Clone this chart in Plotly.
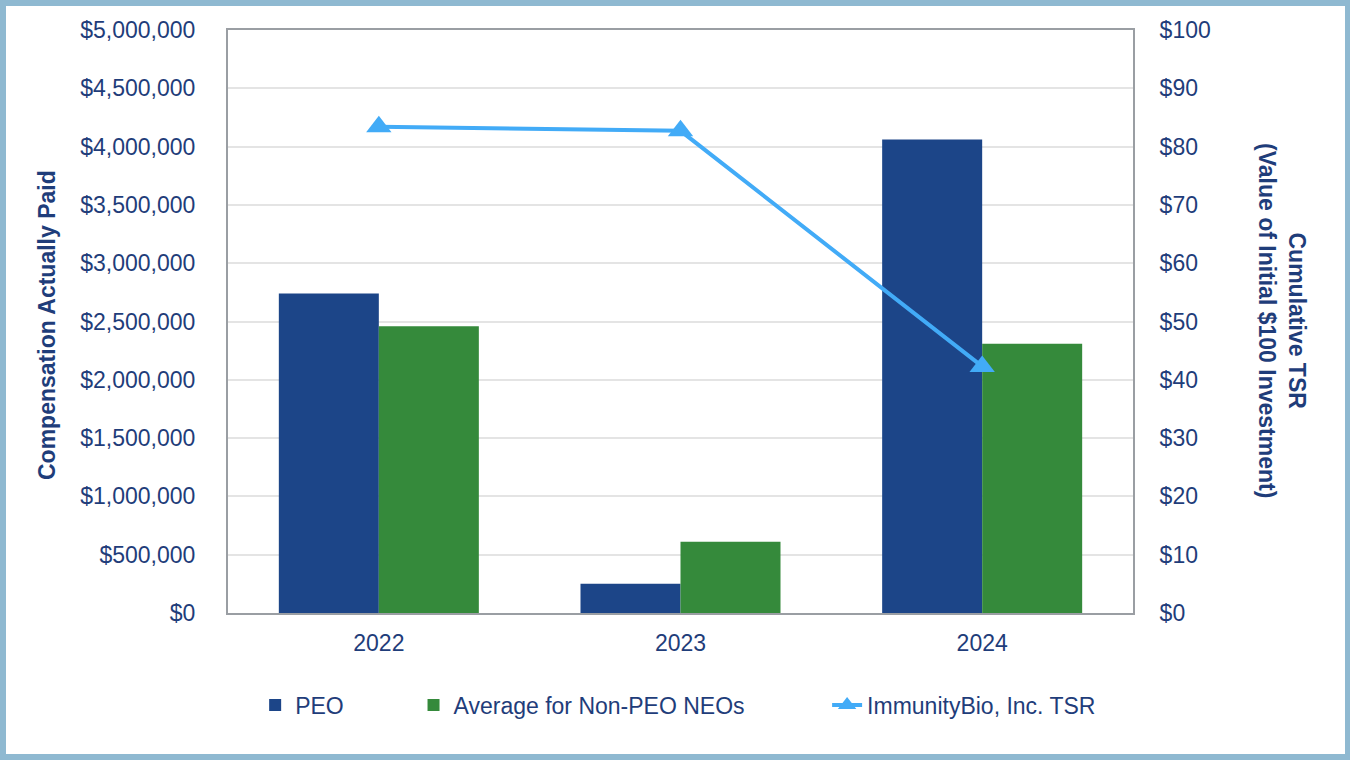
import plotly.graph_objects as go

years = ["2022", "2023", "2024"]
peo = [2740000, 250000, 4060000]
neo = [2460000, 610000, 2310000]
tsr = [83.4, 82.7, 42.3]

left_ticks = [0, 500000, 1000000, 1500000, 2000000, 2500000, 3000000, 3500000, 4000000, 4500000, 5000000]
left_labels = ["$0", "$500,000", "$1,000,000", "$1,500,000", "$2,000,000", "$2,500,000",
               "$3,000,000", "$3,500,000", "$4,000,000", "$4,500,000", "$5,000,000"]
right_ticks = [0, 10, 20, 30, 40, 50, 60, 70, 80, 90, 100]
right_labels = ["$0", "$10", "$20", "$30", "$40", "$50", "$60", "$70", "$80", "$90", "$100"]

TXT = "#1f3d7a"
FONT = "Liberation Sans, Arial, sans-serif"

fig = go.Figure()
fig.add_trace(go.Bar(x=years, y=peo, name="PEO", marker=dict(color="#1c4588", line=dict(width=0)),
                     legend="legend"))
fig.add_trace(go.Bar(x=years, y=neo, name="Average for Non-PEO NEOs",
                     marker=dict(color="#358a3b", line=dict(width=0)), legend="legend2"))
fig.add_trace(go.Scatter(x=years, y=tsr, name="ImmunityBio, Inc. TSR", yaxis="y2",
                         mode="lines+markers", line=dict(color="#42abf7", width=4),
                         marker=dict(symbol="triangle-up", size=22, color="#42abf7"),
                         legend="legend3"))

legend_common = dict(orientation="h", yanchor="middle", y=-0.158, xanchor="left",
                     font=dict(family=FONT, size=23, color=TXT), bgcolor="rgba(0,0,0,0)")

fig.update_layout(
    width=1350, height=760,
    margin=dict(l=228, r=217, t=30, b=147),
    paper_bgcolor="white", plot_bgcolor="white",
    font=dict(family=FONT, size=23, color=TXT),
    barmode="group", bargap=0.337, bargroupgap=0,
    xaxis=dict(showline=True, linecolor="#9a9ea3", linewidth=2, mirror=True,
               ticks="outside", ticklen=8, tickcolor="rgba(0,0,0,0)",
               tickfont=dict(size=23, color=TXT)),
    yaxis=dict(range=[0, 5000000], tickvals=left_ticks, ticktext=left_labels,
               showgrid=True, gridcolor="#e4e4e4", gridwidth=2, zeroline=False,
               showline=True, linecolor="#9a9ea3", linewidth=2,
               ticks="outside", ticklen=26, tickcolor="rgba(0,0,0,0)",
               tickfont=dict(size=23, color=TXT)),
    yaxis2=dict(range=[0, 100], tickvals=right_ticks, ticktext=right_labels,
                overlaying="y", side="right", showgrid=False, zeroline=False,
                showline=True, linecolor="#9a9ea3", linewidth=2,
                ticks="outside", ticklen=20, tickcolor="rgba(0,0,0,0)",
                tickfont=dict(size=23, color=TXT)),
    legend=dict(legend_common, x=0.030),
    legend2=dict(legend_common, x=0.205),
    legend3=dict(legend_common, x=0.662),
    showlegend=True,
    shapes=[dict(type="rect", xref="paper", yref="paper", x0=-225/905, x1=1+215/905,
                 y0=-144/583, y1=1+27/583, line=dict(color="#8fb9d1", width=6),
                 fillcolor="rgba(0,0,0,0)", layer="above")],
    annotations=[
        dict(text="<b>Compensation Actually Paid</b>", xref="paper", yref="paper",
             x=(47-228)/905, y=(613-325)/583, textangle=-90, showarrow=False,
             font=dict(size=23, color=TXT), xanchor="center", yanchor="middle"),
        dict(text="<b>Cumulative TSR<br>(Value of Initial $100 Investment)</b>", xref="paper", yref="paper",
             x=(1282-228)/905, y=(613-320)/583, textangle=90, showarrow=False,
             font=dict(size=23, color=TXT), xanchor="center", yanchor="middle"),
    ],
)

fig.write_html("out.html", config={"displayModeBar": False},
               post_script="document.body.style.margin='0';")
